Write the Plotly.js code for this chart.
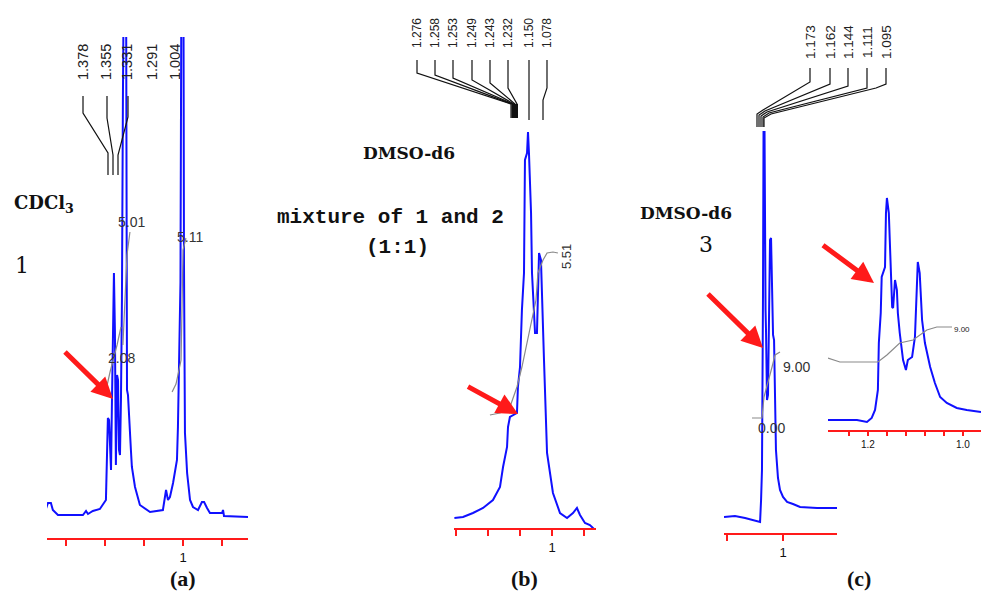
<!DOCTYPE html>
<html><head><meta charset="utf-8">
<script src="https://cdn.plot.ly/plotly-3.0.1.min.js"></script>
<style>html,body{margin:0;padding:0;background:#fff}#chart{width:981px;height:592px}</style>
</head><body><div id="chart"></div>
<script>
// ---------- DATA (chemical shift in ppm, intensity in arbitrary units) ----------
// (a) compound 1 in CDCl3
const aPpm = [1.703,1.692,1.677,1.667,1.641,1.513,1.497,1.487,1.462,1.426,
              1.395,1.390,1.385,1.379,1.374,1.369,1.364,1.359,1.354,1.349,
              1.344,1.338,1.333,1.328,1.323,1.318,1.313,1.308,1.303,1.292,
              1.287,1.282,1.277,1.267,1.262,1.246,1.221,1.205,1.185,1.169,
              1.103,1.087,1.077,1.067,1.051,1.031,1.026,1.021,1.013,1.008,
              0.998,0.995,0.990,0.979,0.964,0.949,0.923,0.903,0.892,0.877,
              0.862,0.800,0.795,0.790,0.667];
const aInt = [7,13,13,6,1,1,5,2,5,7,
              16,46,98,96,61,46,116,216,243,186,
              51,141,136,66,61,116,216,416,560,560,
              126,121,106,66,49,29,11,9,6,4,
              6,26,16,19,33,56,89,136,234,560,
              560,251,83,43,16,9,6,14,14,8,
              3,3,6,0,-1];
const aIntegralPpm = [1.400,1.374,1.338,1.318,null,1.308,1.297,1.287,1.272,null,1.056,1.036,1.010,1.005,1.000,0.985];
const aIntegralVal = [121,144,171,189,null,171,216,261,284,null,124,132,156,216,266,278];
const aPeakLabels = ['1.378','1.355','1.331','1.291','1.004'];
const aIntegralLabels = ['2.08','5.01','5.11'];

// (b) mixture of 1 and 2 (1:1) in DMSO-d6
const bPpm = [1.610,1.556,1.494,1.431,1.369,1.325,1.306,1.281,1.275,1.263,
              1.219,1.213,1.200,1.188,1.175,1.169,1.156,1.150,1.144,1.131,
              1.125,1.113,1.106,1.094,1.088,1.081,1.069,1.063,1.050,1.031,
              1.013,0.994,0.950,0.906,0.869,0.844,0.825,0.794,0.763,0.731];
const bInt = [10,11,15,20,28,41,61,81,101,111,
              115,141,161,218,255,368,375,396,375,315,
              255,221,195,195,241,275,268,241,168,75,
              55,35,15,10,15,20,13,5,3,-2];
const bIntegralPpm = [1.388,1.325,1.263,1.219,1.188,1.138,1.100,1.088,1.056,1.031,0.994,0.963];
const bIntegralVal = [113,115,121,141,161,201,228,255,268,275,276,275];
const bPeakLabels = ['1.276','1.258','1.253','1.249','1.243','1.232','1.150','1.078'];
const bIntegralLabels = ['5.51'];

// (c) compound 3 in DMSO-d6, full view
const cPpm = [1.527,1.429,1.339,1.250,1.205,1.196,1.188,1.179,1.174,1.165,
              1.161,1.156,1.152,1.143,1.134,1.125,1.116,1.107,1.098,1.089,
              1.080,1.071,1.063,1.045,1.027,1.000,0.964,0.911,0.848,0.696,
              0.518];
const cInt = [0,1,-1,-4,-5,17,47,217,385,385,
              245,207,187,117,122,187,277,279,217,182,
              177,117,67,39,27,20,15,13,10,9,
              9];
const cIntegralPpm = [1.277,1.188,1.170,1.134,1.098,1.071,1.027];
const cIntegralVal = [99,99,120,134,150,162,165];
const cPeakLabels = ['1.173','1.162','1.144','1.111','1.095'];
const cIntegralLabels = ['9.00','0.00'];

// (c) inset, expanded
const dPpm = [1.284,1.223,1.202,1.192,1.185,1.179,1.177,1.173,1.171,1.168,
              1.164,1.162,1.160,1.156,1.154,1.149,1.147,1.143,1.139,1.137,
              1.133,1.126,1.120,1.116,1.107,1.101,1.097,1.095,1.091,1.086,
              1.080,1.069,1.059,1.048,1.034,1.013,0.992,0.962];
const dInt = [0,0,-2,2,10,30,77,107,143,147,
              153,207,222,207,180,113,112,140,130,107,
              87,60,50,60,63,83,133,158,147,100,
              77,53,37,23,17,12,10,8];
const dIntegralPpm = [1.284,1.259,1.179,1.160,1.133,1.105,1.076,1.055,1.023];
const dIntegralVal = [62,58,58,65,77,80,90,93,93];

// tick values / labels
const abTickVals = [1.6,1.4,1.2,1.0,0.8];
const abTickText = ['','','','1',''];
const cTickVals = [1.5,1.0];
const cTickText = ['','1'];
const dTickVals = [1.24,1.20,1.16,1.12,1.08,1.04,1.00];
const dTickText = ['','1.2','','','','','1.0'];

// ---------- LAYOUT HELPERS ----------
const W = 981, H = 592;
const fx = p => p / W;
const fy = p => 1 - p / H;
const BLUE = '#1010ff', RED = '#ff1a1a', GRAY = '#8a8a8a';

function spec(x, y, xa, ya) {
  return {x, y, xaxis: xa, yaxis: ya, type: 'scatter', mode: 'lines',
          line: {color: BLUE, width: 2}, hoverinfo: 'skip'};
}
function integ(x, y, xa, ya) {
  return {x, y, xaxis: xa, yaxis: ya, type: 'scatter', mode: 'lines', connectgaps: false,
          line: {color: GRAY, width: 1.2}, hoverinfo: 'skip'};
}
const traces = [
  spec(aPpm, aInt, 'x', 'y'), integ(aIntegralPpm, aIntegralVal, 'x', 'y'),
  spec(bPpm, bInt, 'x2', 'y2'), integ(bIntegralPpm, bIntegralVal, 'x2', 'y2'),
  spec(cPpm, cInt, 'x3', 'y3'), integ(cIntegralPpm, cIntegralVal, 'x3', 'y3'),
  spec(dPpm, dInt, 'x4', 'y4'), integ(dIntegralPpm, dIntegralVal, 'x4', 'y4')
];

function xax(d0, d1, range, tv, tt, anchor, fs, tl) {
  return {domain: [fx(d0), fx(d1)], range, autorange: false, anchor,
          showline: true, linecolor: RED, linewidth: 2, mirror: false,
          ticks: 'outside', ticklen: tl, tickwidth: 1.5, tickcolor: RED,
          tickvals: tv, ticktext: tt, showgrid: false, zeroline: false,
          tickfont: {family: 'Arial, Liberation Sans', size: fs, color: '#111'}};
}
function yax(top, bottom, range, anchor) {
  return {domain: [fy(bottom), fy(top)], range, autorange: false, anchor, visible: false,
          showgrid: false, zeroline: false};
}

function pathOf(pts) {
  return 'M' + pts.map(p => fx(p[0]).toFixed(5) + ',' + fy(p[1]).toFixed(5)).join(' L');
}
const leaders = [
  // (a)
  [[83,96],[83,113],[108,153],[108,175]],
  [[107,96],[107,118],[113,155],[113,175]],
  [[128,96],[128,117],[118,155],[118,175]],
  // (b)
  [[417,60],[417,73],[511,104],[511,118]],
  [[435,60],[435,75],[512,104],[512,118]],
  [[453,60],[453,78],[513,104],[513,118]],
  [[472,60],[472,80],[514,104],[514,118]],
  [[490,60],[490,83],[515,104],[515,118]],
  [[508,60],[508,88],[517,104],[517,118]],
  [[529,60],[529,120]],
  [[547,60],[547,88],[543,100],[543,120]],
  // (c)
  [[810,68],[810,82],[763,110],[757,114],[757,127]],
  [[830,68],[830,84],[765,111],[759,115],[759,127]],
  [[848,68],[848,86],[767,112],[761,116],[761,127]],
  [[867,68],[867,88],[769,113],[763,117],[763,127]],
  [[886,68],[886,84],[876,88],[771,114],[764,118],[764,127]]
];
const shapes = leaders.map(pts => ({type: 'path', xref: 'paper', yref: 'paper', path: pathOf(pts),
  line: {color: '#111', width: 1.2}}));
shapes.push({type: 'rect', xref: 'paper', yref: 'paper', x0: fx(512), x1: fx(518), y0: fy(118), y1: fy(104),
  fillcolor: '#111', line: {width: 0}});

const annotations = [];
function txt(text, x, y, font, extra) {
  annotations.push(Object.assign({text, x: fx(x), y: fy(y), xref: 'paper', yref: 'paper',
    showarrow: false, xanchor: 'center', yanchor: 'middle', font}, extra || {}));
}
const peakFontA = {family: 'Arial, Liberation Sans', size: 14.5, color: '#222'};
[83,106,127,152,175].forEach((x, i) => txt(aPeakLabels[i], x, 62, peakFontA, {textangle: -90}));
const peakFontB = {family: 'Arial, Liberation Sans', size: 12, color: '#222'};
[417,435,453,472,490,508,529,547].forEach((x, i) => txt(bPeakLabels[i], x, 33, peakFontB, {textangle: -90}));
const peakFontC = {family: 'Arial, Liberation Sans', size: 13.5, color: '#222'};
[810,830,848,867,886].forEach((x, i) => txt(cPeakLabels[i], x, 42, peakFontC, {textangle: -90}));

const intFont = {family: 'Arial, Liberation Sans', size: 14, color: '#333'};
txt(aIntegralLabels[0], 121, 358, intFont);
txt(aIntegralLabels[1], 131, 222, intFont);
txt(aIntegralLabels[2], 190, 237, intFont);
txt(bIntegralLabels[0], 566, 257, {family: 'Arial, Liberation Sans', size: 13, color: '#333'}, {textangle: -90});
txt(cIntegralLabels[0], 796, 367, intFont);
txt(cIntegralLabels[1], 771, 428, intFont);
txt(cIntegralLabels[0], 962, 329, {family: 'Arial, Liberation Sans', size: 8, color: '#222'});

const serifB = (s) => ({family: 'DejaVu Serif', size: s, color: '#111', weight: 'bold'});
txt('<b>CDCl<sub>3</sub></b>', 44, 204, serifB(18));
txt('1', 22, 265, {family: 'DejaVu Serif', size: 22, color: '#111'});
txt('<b>DMSO-d6</b>', 409, 153, serifB(17));
txt('<b>mixture of 1 and 2</b>', 390, 217, {family: 'Liberation Mono', size: 21, color: '#111'});
txt('<b>(1:1)</b>', 397, 247, {family: 'Liberation Mono', size: 21, color: '#111'});
txt('<b>DMSO-d6</b>', 686, 213, serifB(17));
txt('3', 706, 244, {family: 'DejaVu Serif', size: 22, color: '#111'});
const capFont = {family: 'Liberation Serif', size: 22, color: '#111'};
txt('<b>(a)</b>', 183, 578, capFont);
txt('<b>(b)</b>', 524, 578, capFont);
txt('<b>(c)</b>', 859, 578, capFont);

function arrow(tip, tail) {
  annotations.push({text: ' ', xref: 'paper', yref: 'paper', x: fx(tip[0]), y: fy(tip[1]),
    showarrow: true, ax: tail[0] - tip[0], ay: tail[1] - tip[1], axref: 'pixel', ayref: 'pixel',
    arrowcolor: RED, arrowwidth: 5, arrowhead: 2, arrowsize: 0.85, standoff: 0});
}
arrow([113,399], [62,349]);
arrow([518,414], [465,385]);
arrow([763,348], [705,291]);
arrow([874,283], [820,243]);

const layout = {
  width: W, height: H, margin: {l: 0, r: 0, t: 0, b: 0},
  paper_bgcolor: '#fff', plot_bgcolor: 'rgba(0,0,0,0)', showlegend: false,
  xaxis:  xax(47, 248, [1.697, 0.667], abTickVals, abTickText, 'y', 13, 6),
  yaxis:  yax(37, 538, [-22, 479], 'x'),
  xaxis2: xax(454, 596, [1.6125, 0.725], abTickVals, abTickText, 'y2', 13, 6),
  yaxis2: yax(128, 528, [0, 400], 'x2'),
  xaxis3: xax(724, 837, [1.527, 0.518], cTickVals, cTickText, 'y3', 13, 6),
  yaxis3: yax(127, 533, [-16, 390], 'x3'),
  xaxis4: xax(828, 981, [1.284, 0.962], dTickVals, dTickText, 'y4', 10, 4),
  yaxis4: yax(190, 430, [-10, 230], 'x4'),
  shapes, annotations
};
Plotly.newPlot('chart', traces, layout, {staticPlot: true, displayModeBar: false});
</script></body></html>
